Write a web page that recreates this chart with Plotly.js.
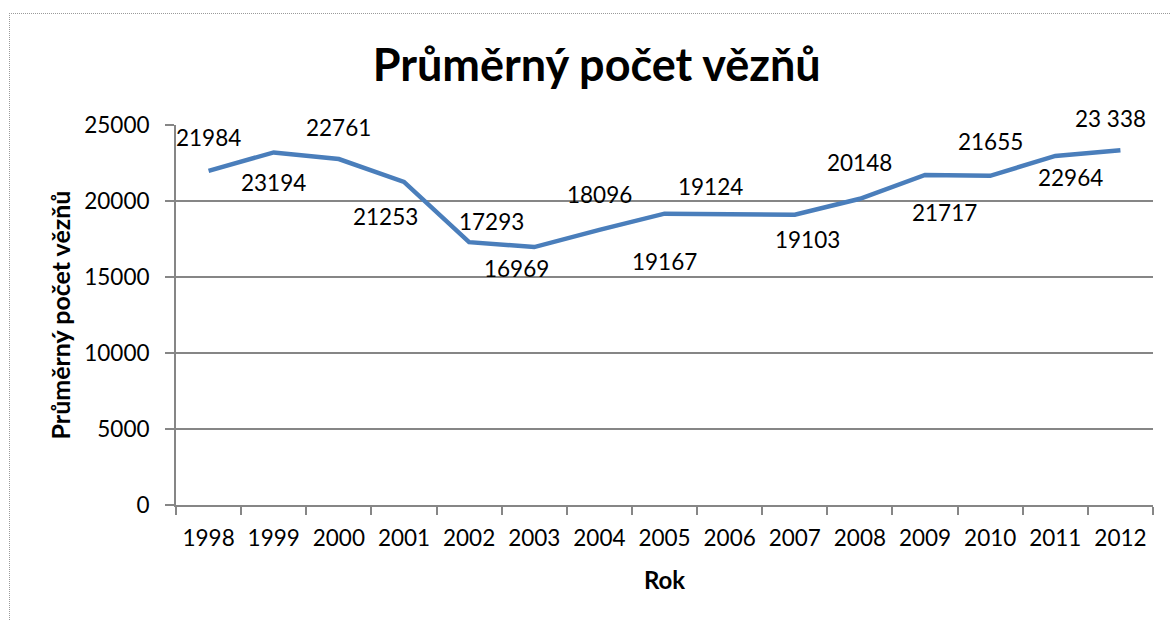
<!DOCTYPE html>
<html>
<head>
<meta charset="utf-8">
<script src="https://cdn.plot.ly/plotly-3.0.1.min.js"></script>
<style>
  html, body { margin: 0; padding: 0; background: #fff; }
  #frame {
    position: absolute; left: 9px; top: 13px; width: 1200px; height: 700px;
    border-left: 1px dotted #9a9a9a; border-top: 1px dotted #9a9a9a;
  }
  #chart { position: absolute; left: 0; top: 0; width: 1170px; height: 621px; }
</style>
</head>
<body>
<div id="frame"></div>
<div id="chart"></div>
<script>
const years = ['1998', '1999', '2000', '2001', '2002', '2003', '2004', '2005',
               '2006', '2007', '2008', '2009', '2010', '2011', '2012'];
const prisoners = [21984, 23194, 22761, 21253, 17293, 16969, 18096, 19167,
                   19124, 19103, 20148, 21717, 21655, 22964, 23338];
const labels = ['21984', '23194', '22761', '21253', '17293', '16969', '18096', '19167',
                '19124', '19103', '20148', '21717', '21655', '22964', '23 338'];

// label placement (px) - Excel nudged them by hand
const shiftX = [0, 0, 0, -18, 22, -18, 0, 0, -19, 13, 0, 19, 0, 15, -10];
const shiftY = [33, -30, 32, -35, 21, -21, 35, -48, 28, -25, 36, -38, 34, -22, 32];

const font = 'Lato, "Open Sans", sans-serif';

const notes = years.map((yr, i) => ({
    xref: 'x',
    yref: 'y',
    x: i,
    y: prisoners[i],
    text: labels[i],
    showarrow: false,
    xshift: shiftX[i],
    yshift: shiftY[i],
    font: { family: font, size: 22.5, color: '#000' }
}));

const trace = {
    x: years,
    y: prisoners,
    type: 'scatter',
    mode: 'lines',
    line: { color: '#4a7ebb', width: 4.5 },
    hoverinfo: 'x+y'
};

const layout = {
    width: 1170,
    height: 621,
    margin: { l: 176, r: 17, t: 125, b: 116 },
    paper_bgcolor: 'rgba(0,0,0,0)',
    plot_bgcolor: 'rgba(0,0,0,0)',
    font: { family: font, size: 22, color: '#000' },
    showlegend: false,
    title: {
        text: '<b>Průměrný počet vězňů</b>',
        font: { size: 45 },
        x: 0.51,
        xanchor: 'center',
        y: 0.895,
        yanchor: 'middle'
    },
    xaxis: {
        type: 'category',
        range: [-0.5, 14.5],
        showline: true,
        linecolor: '#868686',
        linewidth: 2,
        ticks: 'outside',
        tickson: 'boundaries',
        ticklen: 8,
        tickcolor: '#868686',
        tickwidth: 2,
        showgrid: false,
        tickfont: { size: 22.5 },
        ticklabelstandoff: 12,
        title: { text: '<b>Rok</b>', font: { size: 24 }, standoff: 22 }
    },
    yaxis: {
        range: [0, 25000],
        tick0: 0,
        dtick: 5000,
        tickformat: 'd',
        showline: true,
        linecolor: '#868686',
        linewidth: 2,
        ticks: 'outside',
        ticklen: 9,
        tickcolor: '#868686',
        tickwidth: 2,
        showgrid: true,
        gridcolor: '#868686',
        gridwidth: 1.5,
        zeroline: false,
        tickfont: { size: 22.5 },
        ticklabelstandoff: 11,
        title: { text: '<b>Průměrný počet vězňů</b>', font: { size: 25 }, standoff: 6 }
    },
    annotations: notes
};

Plotly.newPlot('chart', [trace], layout, { displayModeBar: false, staticPlot: true });
</script>
</body>
</html>
